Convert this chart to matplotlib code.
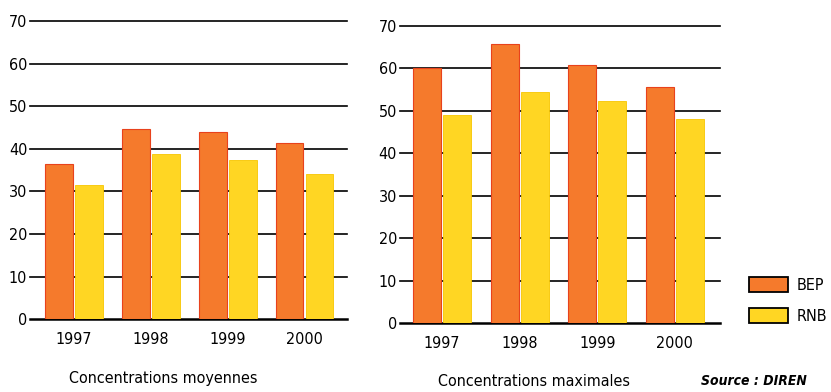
import matplotlib

matplotlib.use("Agg")
import matplotlib.pyplot as plt
import numpy as np
from matplotlib.patches import Patch

plt.rcParams["font.family"] = ["DejaVu Sans"]
plt.rcParams["font.stretch"] = "condensed"

years = ["1997", "1998", "1999", "2000"]
series_names = ["BEP", "RNB"]
moyennes_bep = [36.4, 44.6, 44.0, 41.3]
moyennes_rnb = [31.4, 38.7, 37.3, 34.0]
maximales_bep = [60.0, 65.8, 60.8, 55.7]
maximales_rnb = [49.0, 54.5, 52.2, 48.0]
y_ticks = [0, 10, 20, 30, 40, 50, 60, 70]

BEP_FACE = "#f57a2c"
BEP_EDGE = "#e8421c"
RNB_FACE = "#ffd623"
RNB_EDGE = "#f7c600"

fig = plt.figure(figsize=(8.31, 3.92), dpi=100)


def draw_panel(rect, bep, rnb, xlim, title, title_y):
    ax = fig.add_axes(rect)
    x = np.arange(len(years))
    for y in y_ticks:
        ax.axhline(y, color="black", linewidth=1.8 if y == 0 else 1.2,
                   zorder=1, clip_on=False)
    ax.bar(x - 0.195, bep, width=0.36, color=BEP_FACE, edgecolor=BEP_EDGE,
           linewidth=0.8, zorder=2)
    ax.bar(x + 0.195, rnb, width=0.36, color=RNB_FACE, edgecolor=RNB_EDGE,
           linewidth=0.6, zorder=2)
    ax.set_xlim(*xlim)
    ax.set_ylim(0, 70)
    ax.set_yticks(y_ticks)
    ax.set_xticks(x)
    ax.set_xticklabels(years)
    ax.tick_params(axis="both", length=0, labelsize=11.5)
    ax.tick_params(axis="y", pad=2)
    ax.tick_params(axis="x", pad=9)
    for s in ax.spines.values():
        s.set_visible(False)
    fig.text(rect[0] + rect[2] * 0.42, title_y, title, ha="center",
             va="center", fontsize=11.5)
    return ax


draw_panel([0.036, 0.186, 0.381, 0.760], moyennes_bep, moyennes_rnb,
           (-0.571, 3.545), "Concentrations moyennes", 1 - 379 / 392)
draw_panel([0.481, 0.176, 0.385, 0.758], maximales_bep, maximales_rnb,
           (-0.548, 3.58), "Concentrations maximales", 1 - 381 / 392)

fig.text(754 / 831, 1 - 381 / 392, "Source : DIREN", ha="center", va="center",
         fontsize=10, style="italic", fontweight="bold")

handles = [
    Patch(facecolor=BEP_FACE, edgecolor="black", linewidth=1.3),
    Patch(facecolor=RNB_FACE, edgecolor="black", linewidth=1.3),
]
fig.legend(handles, series_names, loc="upper left",
           bbox_to_anchor=(738 / 831, 1 - 266 / 392), frameon=False,
           fontsize=11.5, handlelength=2.4, handleheight=1.05,
           labelspacing=0.95, handletextpad=0.6, borderpad=0.2)

fig.savefig("out.png", dpi=100)
